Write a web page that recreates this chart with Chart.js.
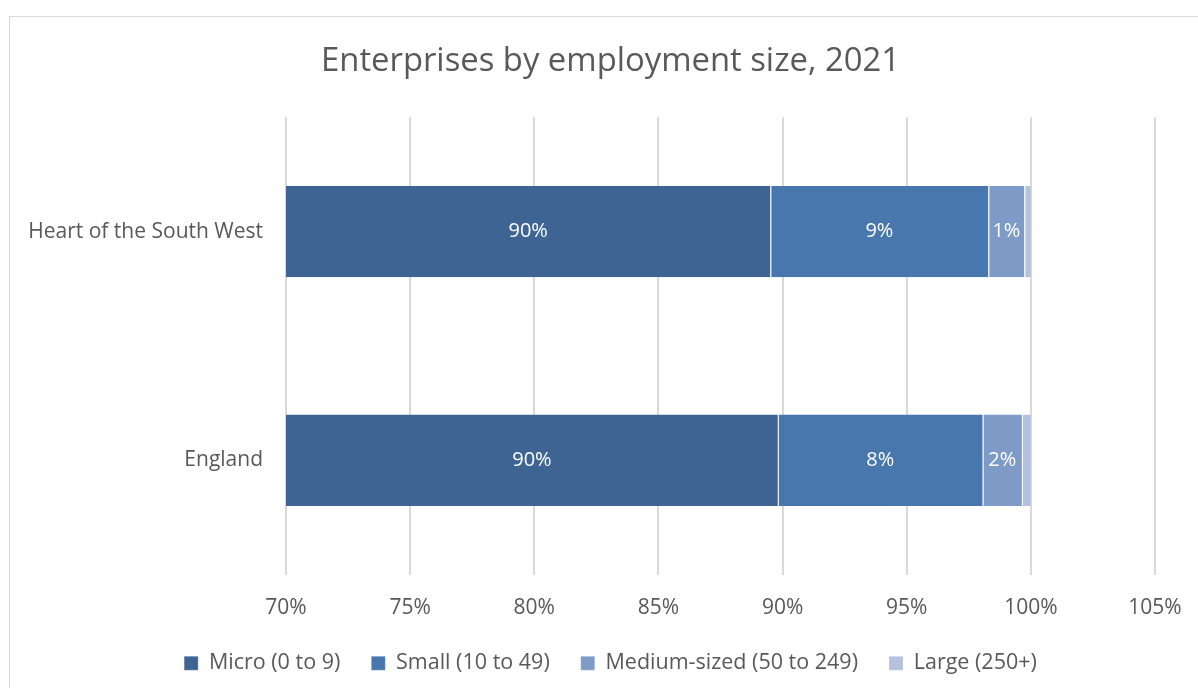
<!DOCTYPE html>
<html><head><meta charset="utf-8">
<script src="https://cdn.jsdelivr.net/npm/chart.js@4/dist/chart.umd.min.js"></script>
<style>
html,body{margin:0;padding:0;background:#fff;overflow:hidden;width:1198px;height:688px;}
#box{position:absolute;left:9px;top:16px;width:1203px;height:680px;border:1px solid #d9d9d9;box-sizing:border-box;}
#c{display:block;}
</style></head><body>
<div id="box"><canvas id="c" width="1201" height="678"></canvas></div>
<script>
const categories = ["Heart of the South West", "England"];
const seriesNames = ["Micro (0 to 9)", "Small (10 to 49)", "Medium-sized (50 to 249)", "Large (250+)"];
const micro = [89.51, 89.81];
const small = [8.78, 8.25];
const medium = [1.45, 1.58];
const large = [0.26, 0.36];
const xTicks = [70, 75, 80, 85, 90, 95, 100, 105];
const colors = ["#3d6493", "#4877ae", "#7e9bc7", "#b4c2de"];
const showLabels = [true, true, true, false];

const FONT = "'Open Sans', 'Noto Sans', sans-serif";
const TXT = "#595959";

const labelPlugin = {
  id: 'barLabels',
  afterDatasetsDraw(chart) {
    const ctx = chart.ctx, ca = chart.chartArea;
    ctx.save();
    ctx.font = "20px " + FONT;
    ctx.fillStyle = "#ffffff";
    ctx.textAlign = "center";
    ctx.textBaseline = "middle";
    chart.data.datasets.forEach((ds, di) => {
      if (!showLabels[di]) return;
      chart.getDatasetMeta(di).data.forEach((el, i) => {
        const a = Math.max(Math.min(el.x, el.base), ca.left);
        const b = Math.min(Math.max(el.x, el.base), ca.right);
        ctx.fillText(Math.round(ds.data[i]) + "%", (a + b) / 2, el.y);
      });
    });
    ctx.restore();
  }
};

new Chart(document.getElementById('c'), {
  type: 'bar',
  data: {
    labels: categories,
    datasets: [micro, small, medium, large].map((d, i) => ({
      label: seriesNames[i], data: d, backgroundColor: colors[i],
      borderColor: '#ffffff', borderWidth: {left: 1, right: 0, top: 0, bottom: 0}, borderSkipped: false,
      categoryPercentage: 1.0, barPercentage: 0.4
    }))
  },
  options: {
    indexAxis: 'y',
    responsive: false,
    animation: false,
    layout: {padding: {left: 0, right: 0, top: 0, bottom: 11}},
    scales: {
      x: {
        stacked: true, min: 70, max: 105,
        afterBuildTicks(ax) { ax.ticks = xTicks.map(v => ({value: v})); },
        ticks: {color: TXT, font: {family: FONT, size: 21}, padding: 21, callback: v => v + "%"},
        grid: {color: "#d9d9d9", lineWidth: 2, drawTicks: false},
        border: {display: false},
        afterFit(ax) { ax.height = 47; }
      },
      y: {
        stacked: true,
        ticks: {color: TXT, font: {family: FONT, size: 21}, padding: 15},
        grid: {display: false},
        border: {display: false},
        afterFit(ax) { ax.width = 276; }
      },
      ySpacer: {
        type: 'category', position: 'right', labels: categories,
        ticks: {display: false}, grid: {display: false}, border: {display: false},
        afterFit(ax) { ax.width = 56; }
      }
    },
    plugins: {
      title: {display: true, text: "Enterprises by employment size, 2021", color: TXT,
        font: {family: FONT, size: 32.8, weight: 'normal'}, padding: {top: 25, bottom: 36}},
      legend: {position: 'bottom', labels: {color: TXT, font: {family: FONT, size: 21.5},
        boxWidth: 14, boxHeight: 14, padding: 31}},
      tooltip: {enabled: false}
    }
  },
  plugins: [labelPlugin]
});
</script>
</body></html>
